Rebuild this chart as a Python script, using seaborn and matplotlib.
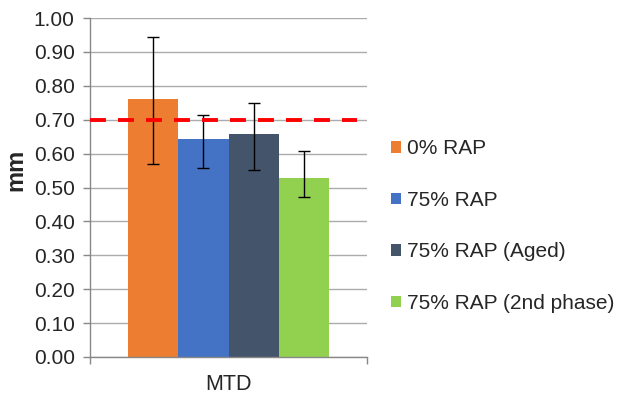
import pandas as pd
import numpy as np
import matplotlib
matplotlib.use("Agg")
import matplotlib.pyplot as plt
import seaborn as sns

# data
groups = ["0% RAP", "75% RAP", "75% RAP (Aged)", "75% RAP (2nd phase)"]
means = [0.761, 0.643, 0.658, 0.528]
err_low = [0.570, 0.558, 0.553, 0.471]
err_high = [0.943, 0.713, 0.748, 0.608]
category = ["MTD"] * 4
limit = 0.70
colors = ["#ED7D31", "#4472C4", "#44546A", "#92D050"]

df = pd.DataFrame({"cat": category, "grp": groups, "val": means})

sns.set_style("white")
plt.rcParams['font.family'] = ['Liberation Sans', 'DejaVu Sans']

fig = plt.figure(figsize=(6.17, 3.96), dpi=100)
ax = fig.add_axes([90/617, 1-357/396, 277/617, 339/396])

sns.barplot(data=df, x="cat", y="val", hue="grp", hue_order=groups,
            palette=colors, width=0.726, errorbar=None, saturation=1,
            linewidth=0, ax=ax)

# error bars at the bar centres
bars = [p for p in ax.patches if p.get_height() > 0][:4]
for p, m, lo, hi in zip(bars, means, err_low, err_high):
    xc = p.get_x() + p.get_width() / 2
    ax.errorbar(xc, m, yerr=[[m - lo], [hi - m]], fmt="none",
                ecolor="black", elinewidth=1, capsize=4.3, capthick=1, zorder=5)

ax.axhline(limit, xmin=0, xmax=0.964, color="#FF0000", lw=2.8,
           dashes=(4.1, 3.1), zorder=6)

ax.set_ylim(0, 1.0)
ax.set_xlim(-0.5, 0.5)
ax.set_yticks(np.arange(0, 1.01, 0.1))
ax.set_yticklabels([f"{v:.2f}" for v in np.arange(0, 1.01, 0.1)], fontsize=15)
ax.yaxis.grid(True, color="#ABABAB", lw=1)
ax.set_axisbelow(True)
ax.set_xlabel("")
ax.set_ylabel("mm", fontsize=17, fontweight="bold")
ax.yaxis.set_label_coords(-0.225, 0.552)
ax.tick_params(axis="x", length=0, labelsize=15.5, pad=12)
ax.tick_params(axis="y", length=5, color="#888888", width=1, direction="out", pad=6, left=True)
ax.set_xticks([-0.5, 0.5], minor=True)
ax.tick_params(axis="x", which="minor", length=5, color="#888888", width=1, direction="out", bottom=True)

for s in ["top", "right"]:
    ax.spines[s].set_visible(False)
for s in ["left", "bottom"]:
    ax.spines[s].set_color("#888888")
    ax.spines[s].set_linewidth(1)

ax.legend(loc="center left", bbox_to_anchor=(1.055, 0.386), frameon=False,
          fontsize=15, labelspacing=1.56, handlelength=0.5, handleheight=0.5,
          handletextpad=0.3, borderaxespad=0)

fig.savefig("out.png", dpi=100)
